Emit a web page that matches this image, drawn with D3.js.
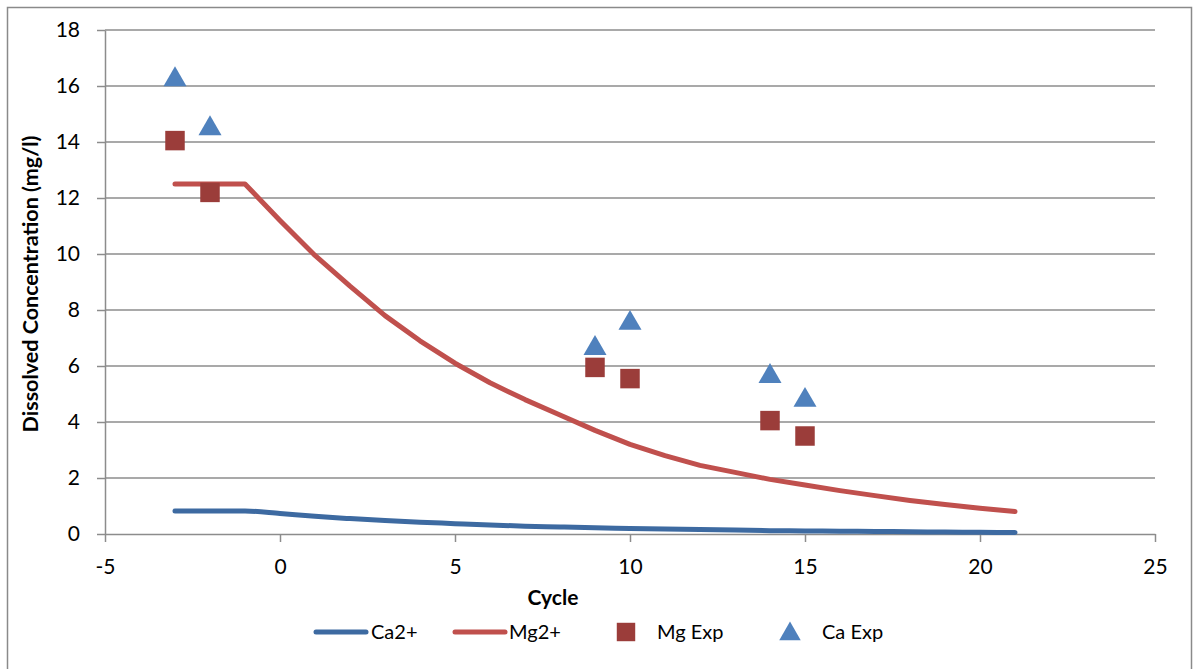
<!DOCTYPE html>
<html>
<head>
<meta charset="utf-8">
<script src="https://cdn.jsdelivr.net/npm/d3@7"></script>
<style>
  html, body { margin: 0; padding: 0; background: #fff; }
  svg { display: block; font-family: Lato, "Open Sans", sans-serif; }
</style>
</head>
<body>
<svg id="chart" width="1193" height="669"></svg>
<script>
// Model curves (cycle -> dissolved concentration, mg/l)
const cycles = [-3, -2, -1, 0, 1, 2, 3, 4, 5, 6, 7, 8, 9, 10, 11, 12, 13, 14, 15, 16, 17, 18, 19, 20, 21];
const ca2Model = [0.82, 0.82, 0.82, 0.73, 0.63, 0.55, 0.48, 0.42, 0.37, 0.32, 0.28, 0.25, 0.22, 0.20, 0.18, 0.16, 0.14, 0.12, 0.11, 0.10, 0.09, 0.08, 0.07, 0.06, 0.05];
const mg2Model = [12.5, 12.5, 12.5, 11.2, 9.95, 8.85, 7.8, 6.9, 6.1, 5.4, 4.8, 4.25, 3.7, 3.2, 2.8, 2.45, 2.2, 1.95, 1.75, 1.55, 1.37, 1.2, 1.05, 0.92, 0.8];

// Experimental measurements
const expCycles = [-3, -2, 9, 10, 14, 15];
const mgExp = [14.05, 12.2, 5.95, 5.55, 4.05, 3.5];
const caExp = [16.3, 14.55, 6.7, 7.6, 5.7, 4.85];

const xTicks = [-5, 0, 5, 10, 15, 20, 25];
const yTicks = [0, 2, 4, 6, 8, 10, 12, 14, 16, 18];

const svg = d3.select("#chart");
const plot = { left: 105, right: 1155, top: 30, bottom: 534 };

const x = d3.scaleLinear().domain([-5, 25]).range([plot.left, plot.right]);
const y = d3.scaleLinear().domain([0, 18]).range([plot.bottom, plot.top]);

const gridColor = "#8c8c8c";
const colors = { ca: "#3d6aa1", mg: "#c0504d", mgExp: "#9b3d3a", caExp: "#4f81bd" };
const plain = d => String(d);

// Outer frame
svg.append("rect")
  .attr("x", 7.5).attr("y", 7.5)
  .attr("width", 1184).attr("height", 700)
  .attr("fill", "none").attr("stroke", "#8a8a8a").attr("stroke-width", 1.5);

// Horizontal gridlines
svg.append("g")
  .selectAll("line")
  .data(yTicks.filter(d => d > 0))
  .join("line")
  .attr("x1", plot.left).attr("x2", plot.right)
  .attr("y1", d => y(d)).attr("y2", d => y(d))
  .attr("stroke", gridColor).attr("stroke-width", 1.5);

// Y axis
const yAxis = svg.append("g")
  .attr("transform", `translate(${plot.left},0)`)
  .call(d3.axisLeft(y).tickValues(yTicks).tickFormat(plain).tickSize(8).tickPadding(17).tickSizeOuter(0));
yAxis.select(".domain").attr("stroke", gridColor).attr("stroke-width", 1.5);
yAxis.selectAll(".tick line").attr("stroke", gridColor).attr("stroke-width", 1.5);
yAxis.selectAll(".tick text")
  .attr("font-size", 21).attr("fill", "#000").attr("font-family", "Lato, sans-serif");

// X axis
const xAxis = svg.append("g")
  .attr("transform", `translate(0,${plot.bottom})`)
  .call(d3.axisBottom(x).tickValues(xTicks).tickFormat(plain).tickSize(8).tickPadding(17).tickSizeOuter(0));
xAxis.select(".domain").attr("stroke", gridColor).attr("stroke-width", 1.5);
xAxis.selectAll(".tick line").attr("stroke", gridColor).attr("stroke-width", 1.5);
xAxis.selectAll(".tick text")
  .attr("font-size", 21).attr("fill", "#000").attr("font-family", "Lato, sans-serif");

// Axis titles
svg.append("text")
  .attr("x", x(7.8)).attr("y", 605)
  .attr("text-anchor", "middle")
  .attr("font-size", 21).attr("font-weight", "bold")
  .text("Cycle");

svg.append("text")
  .attr("transform", `translate(38,${(plot.top + plot.bottom) / 2 + 2}) rotate(-90)`)
  .attr("text-anchor", "middle")
  .attr("font-size", 21.5).attr("font-weight", "bold")
  .text("Dissolved Concentration (mg/l)");

// Model lines
const line = d3.line().x(d => x(d[0])).y(d => y(d[1])).curve(d3.curveLinear);

svg.append("path")
  .datum(cycles.map((c, i) => [c, mg2Model[i]]))
  .attr("d", line)
  .attr("fill", "none").attr("stroke", colors.mg)
  .attr("stroke-width", 5).attr("stroke-linecap", "round").attr("stroke-linejoin", "round");

svg.append("path")
  .datum(cycles.map((c, i) => [c, ca2Model[i]]))
  .attr("d", line.curve(d3.curveMonotoneX))
  .attr("fill", "none").attr("stroke", colors.ca)
  .attr("stroke-width", 5).attr("stroke-linecap", "round").attr("stroke-linejoin", "round");

// Experimental markers
const square = d3.symbol().type(d3.symbolSquare).size(380);
const triangle = d3.symbol().type(d3.symbolTriangle).size(230);

svg.append("g")
  .selectAll("path")
  .data(expCycles.map((c, i) => [c, mgExp[i]]))
  .join("path")
  .attr("d", square)
  .attr("transform", d => `translate(${x(d[0])},${y(d[1])})`)
  .attr("fill", colors.mgExp);

svg.append("g")
  .selectAll("path")
  .data(expCycles.map((c, i) => [c, caExp[i]]))
  .join("path")
  .attr("d", triangle)
  .attr("transform", d => `translate(${x(d[0])},${y(d[1]) + 2})`)
  .attr("fill", colors.caExp);

// Legend
const legendY = 632;
const legend = svg.append("g").attr("font-size", 20);

legend.append("line")
  .attr("x1", 316).attr("x2", 366).attr("y1", legendY).attr("y2", legendY)
  .attr("stroke", colors.ca).attr("stroke-width", 5).attr("stroke-linecap", "round");
legend.append("text").attr("x", 371).attr("y", legendY + 7).text("Ca2+");

legend.append("line")
  .attr("x1", 455).attr("x2", 505).attr("y1", legendY).attr("y2", legendY)
  .attr("stroke", colors.mg).attr("stroke-width", 5).attr("stroke-linecap", "round");
legend.append("text").attr("x", 509).attr("y", legendY + 7).text("Mg2+");

legend.append("path")
  .attr("d", d3.symbol().type(d3.symbolSquare).size(340))
  .attr("transform", `translate(626,${legendY})`)
  .attr("fill", colors.mgExp);
legend.append("text").attr("x", 657).attr("y", legendY + 7).text("Mg Exp");

legend.append("path")
  .attr("d", d3.symbol().type(d3.symbolTriangle).size(200))
  .attr("transform", `translate(790,${legendY + 2})`)
  .attr("fill", colors.caExp);
legend.append("text").attr("x", 822).attr("y", legendY + 7).text("Ca Exp");
</script>
</body>
</html>
